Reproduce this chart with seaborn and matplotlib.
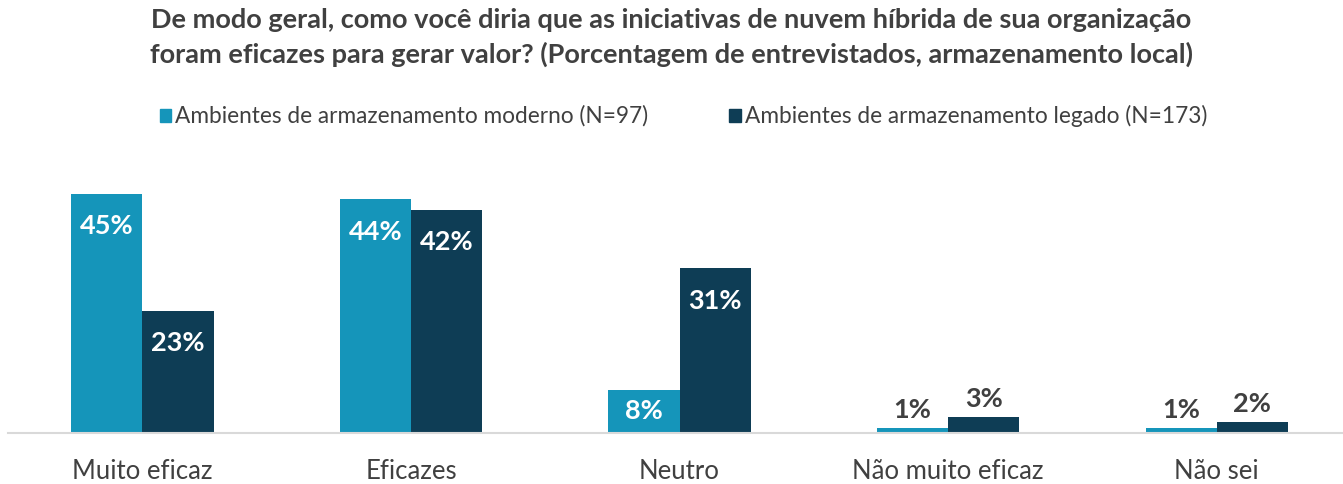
import pandas as pd
import matplotlib.pyplot as plt
import seaborn as sns

categorias = ['Muito eficaz', 'Eficazes', 'Neutro', 'Não muito eficaz', 'Não sei']
moderno = [45, 44, 8, 1, 1]
legado = [23, 42, 31, 3, 2]
series = ['Ambientes de armazenamento moderno (N=97)',
          'Ambientes de armazenamento legado (N=173)']
cores = ['#1595BA', '#0E3D55']

df = pd.DataFrame({
    'Categoria': categorias * 2,
    'Valor': moderno + legado,
    'Serie': [series[0]] * len(categorias) + [series[1]] * len(categorias),
})

sns.set_style('white')
plt.rcParams['font.family'] = ['Lato', 'DejaVu Sans']

fig = plt.figure(figsize=(13.43, 4.85), dpi=100)
ax = fig.add_axes([0.006, 0.1052, 0.994, 0.493])

sns.barplot(data=df, x='Categoria', y='Valor', hue='Serie', palette=cores,
            width=0.53, gap=0, saturation=1, linewidth=0, ax=ax, legend=False)

ax.set_xlim(-0.5, 4.47)
ax.set_ylim(0, 45)
ax.set_xlabel('')
ax.set_ylabel('')
ax.set_yticks([])
for s in ['top', 'right', 'left']:
    ax.spines[s].set_visible(False)
ax.spines['bottom'].set_color('#d9d9d9')
ax.spines['bottom'].set_linewidth(1.5)
ax.tick_params(axis='x', length=0, labelsize=18.5, colors='#404040', pad=18)

# rótulos de dados
for cont in ax.containers:
    for bar in cont:
        h = bar.get_height()
        x = bar.get_x() + bar.get_width() / 2
        if h >= 12:
            ax.text(x, h - 5.9, f'{h:.0f}%', ha='center', va='center',
                    color='white', fontsize=19.5, fontweight='bold')
        elif h >= 5:
            ax.text(x, h / 2 + 0.4, f'{h:.0f}%', ha='center', va='center',
                    color='white', fontsize=19.5, fontweight='bold')
        else:
            ax.text(x, h + 1.3, f'{h:.0f}%', ha='center', va='bottom',
                    color='#404040', fontsize=19.5, fontweight='bold')

titulo = ['De modo geral, como você diria que as iniciativas de nuvem híbrida de sua organização',
          'foram eficazes para gerar valor? (Porcentagem de entrevistados, armazenamento local)']
for ty, linha in zip([0.959, 0.887], titulo):
    fig.text(0.5, ty, linha, ha='center', va='center', fontsize=19.5,
             fontweight='bold', color='#404040')

# legenda
leg_x = [0.119, 0.543]
for lx, nome, cor in zip(leg_x, series, cores):
    fig.patches.append(plt.Rectangle((lx, 0.747), 0.0085, 0.026, transform=fig.transFigure,
                                     color=cor, figure=fig))
    fig.text(lx + 0.0115, 0.761, nome, ha='left', va='center', fontsize=16.3, color='#404040')

fig.savefig('out.png', dpi=100)
